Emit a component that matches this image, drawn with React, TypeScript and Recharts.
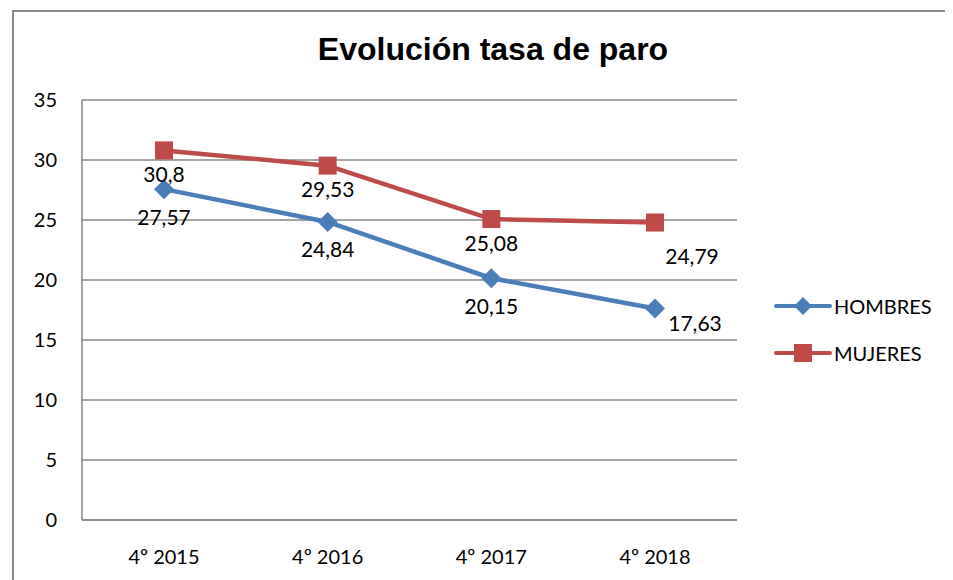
import React from "react";
import { LineChart, Line, XAxis, YAxis, CartesianGrid } from "recharts";

const periods = ["4º 2015", "4º 2016", "4º 2017", "4º 2018"];
const hombres = [27.57, 24.84, 20.15, 17.63];
const mujeres = [30.8, 29.53, 25.08, 24.79];
const yTicks = [0, 5, 10, 15, 20, 25, 30, 35];

const data = periods.map((p, i) => ({
  period: p,
  HOMBRES: hombres[i],
  MUJERES: mujeres[i],
}));

const FONT = "Lato, 'Open Sans', sans-serif";
const BLUE = "#4A7EBB";
const RED = "#BE4B48";
const GRID = "#868686";

const fmt = (v: number) => String(v).replace(".", ",");

function makeLabel(dyNormal: number, dyLast: number, dxLast: number) {
  return (props: any) => {
    const { x, y, value, index } = props;
    const last = index === periods.length - 1;
    return (
      <text
        x={x + (last ? dxLast : 0)}
        y={y + (last ? dyLast : dyNormal)}
        textAnchor="middle"
        dominantBaseline="central"
        fontFamily={FONT}
        fontSize={21}
        fill="#000"
      >
        {fmt(value)}
      </text>
    );
  };
}

const Diamond = (props: any) => {
  const { cx, cy } = props;
  const r = 10;
  return (
    <path
      d={`M${cx},${cy - r}L${cx + r},${cy}L${cx},${cy + r}L${cx - r},${cy}Z`}
      fill={BLUE}
    />
  );
};

const Square = (props: any) => {
  const { cx, cy } = props;
  const s = 9;
  return <rect x={cx - s} y={cy - s} width={s * 2} height={s * 2} fill={RED} />;
};

const legendItems = [
  { name: "HOMBRES", color: BLUE, shape: "diamond" },
  { name: "MUJERES", color: RED, shape: "square" },
];

const LegendBox = () => (
  <div
    style={{
      position: "absolute",
      left: 766,
      top: 274,
      fontFamily: FONT,
      fontSize: 20,
      color: "#000",
    }}
  >
    {legendItems.map((it) => (
      <div
        key={it.name}
        style={{ display: "flex", alignItems: "center", height: 47 }}
      >
        <svg width={58} height={24} style={{ marginRight: 2 }}>
          <line
            x1={2}
            y1={12}
            x2={56}
            y2={12}
            stroke={it.color}
            strokeWidth={4}
            strokeLinecap="round"
          />
          {it.shape === "diamond" ? (
            <path d="M29,3L38,12L29,21L20,12Z" fill={it.color} />
          ) : (
            <rect x={20} y={3} width={18} height={18} fill={it.color} />
          )}
        </svg>
        <span>{it.name}</span>
      </div>
    ))}
  </div>
);

export default function App() {
  return (
    <div
      style={{
        position: "relative",
        width: 937,
        height: 572,
        overflow: "hidden",
      }}
    >
      <div
        style={{
          position: "absolute",
          left: 4,
          top: 2,
          width: 960,
          height: 620,
          borderTop: "2px solid #898989",
          borderLeft: "2px solid #898989",
          boxSizing: "border-box",
        }}
      />
      <div
        style={{
          position: "absolute",
          left: 0,
          top: 23,
          width: 970,
          textAlign: "center",
          fontFamily: "'Liberation Sans', Arial, sans-serif",
          fontWeight: "bold",
          fontSize: 32,
          color: "#000",
        }}
      >
        Evolución tasa de paro
      </div>
      <LineChart
        width={937}
        height={572}
        data={data}
        margin={{ top: 92, right: 208, bottom: 30, left: 0 }}
      >
        <CartesianGrid vertical={false} stroke={GRID} strokeWidth={1.5} />
        <XAxis
          dataKey="period"
          padding={{ left: 82, right: 82 }}
          height={30}
          axisLine={{ stroke: GRID, strokeWidth: 1.5 }}
          tickLine={false}
          tickMargin={24}
          tick={{ fontFamily: FONT, fontSize: 20, fill: "#000" }}
        />
        <YAxis
          domain={[0, 35]}
          ticks={yTicks}
          width={74}
          axisLine={{ stroke: GRID, strokeWidth: 1.5 }}
          tickLine={false}
          tickMargin={19}
          tick={{ fontFamily: FONT, fontSize: 20, fill: "#000" }}
        />
        <Line
          dataKey="HOMBRES"
          stroke={BLUE}
          strokeWidth={4.5}
          dot={<Diamond />}
          activeDot={false}
          isAnimationActive={false}
          label={makeLabel(27, 14, 40)}
        />
        <Line
          dataKey="MUJERES"
          stroke={RED}
          strokeWidth={4.5}
          dot={<Square />}
          activeDot={false}
          isAnimationActive={false}
          label={makeLabel(23, 33, 37)}
        />
      </LineChart>
      <LegendBox />
    </div>
  );
}
